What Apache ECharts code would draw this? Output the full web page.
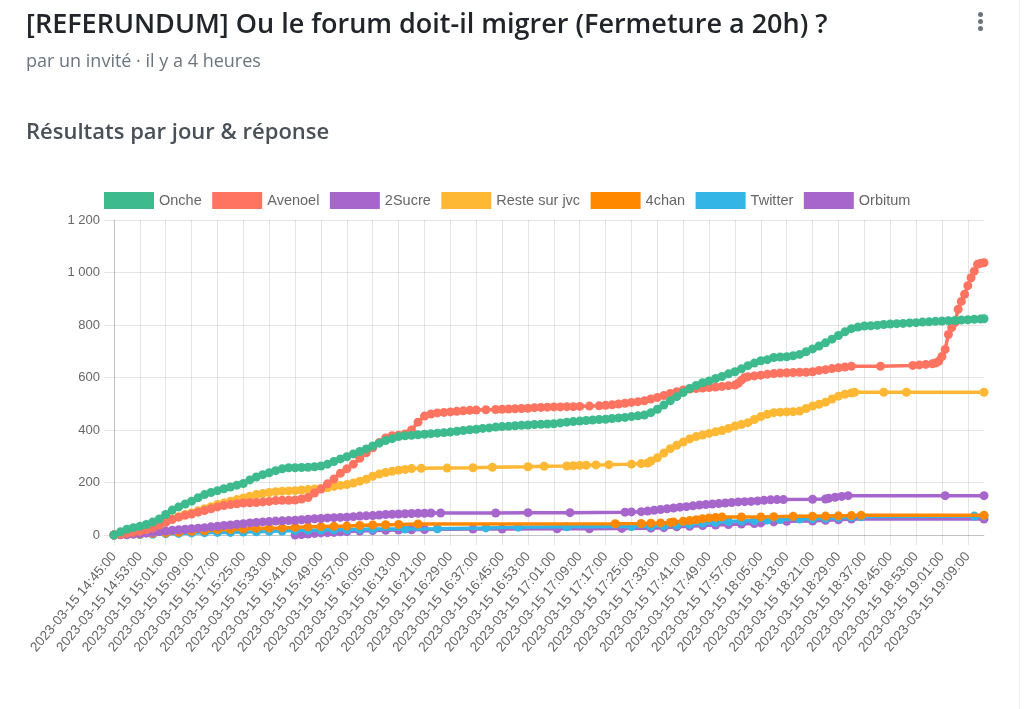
<!DOCTYPE html>
<html>
<head>
<meta charset="utf-8">
<script src="https://cdn.jsdelivr.net/npm/echarts@6/dist/echarts.min.js"></script>
<style>
	body { margin: 0; background: #fff; width: 1024px; height: 709px; overflow: hidden; font-family: "Open Sans", sans-serif; }
	#main { position: absolute; left: 0; top: 0; width: 1024px; height: 709px; }
	.txt { position: absolute; left: 26px; white-space: nowrap; line-height: 1; z-index: 2; }
	.title { top: 9px; font-size: 27px; font-weight: 600; color: #212529; }
	.sub { top: 51px; font-size: 18px; color: #6c757d; }
	.head { top: 119px; font-size: 22px; font-weight: 600; color: #495057; }
	.dot { position: absolute; left: 978px; width: 5px; height: 5px; border-radius: 50%; background: #6c757d; z-index: 2; }
	.edge { position: absolute; left: 1019px; top: 0; width: 1px; height: 709px; background: #f0f0f0; z-index: 2; }
</style>
</head>
<body>
<div id="main"></div>
<div class="txt title">[REFERUNDUM] Ou le forum doit-il migrer (Fermeture a 20h) ?</div>
<div class="txt sub">par un invité · il y a 4 heures</div>
<div class="txt head">Résultats par jour &amp; réponse</div>
<div class="dot" style="top:12px"></div>
<div class="dot" style="top:19px"></div>
<div class="dot" style="top:26px"></div>
<div class="edge"></div>
<script>
// noms des réponses et couleurs
let seriesNames = ['Onche', 'Avenoel', '2Sucre', 'Reste sur jvc', '4chan', 'Twitter', 'Orbitum'];
let seriesColors = ['#3dba8e', '#ff7461', '#a766cc', '#ffb833', '#ff8800', '#33b5e5', '#a766cc'];

// axe des x : une catégorie par minute à partir de 14:45
let startHour = 14;
let startMinute = 45;
let minuteCount = 270;

// valeurs : [minutes depuis 14:45, votes]
let onchePts = [[0,0],[2,12],[4,22],[6,28],[8,33],[10,40],[12,50],[14,61],[16,78],[18,95],[20,107],[22,118],[24,129],[26,142],[28,154],[30,162],[32,169],[34,176],[36,183],[38,190],[40,196],[42,210],[44,221],[46,230],[48,237],[50,245],[52,252],[54,256],[56,256],[58,257],[60,258],[62,260],[64,263],[66,270],[68,280],[70,290],[72,298],[74,309],[76,318],[78,328],[80,339],[82,350],[84,360],[86,367],[88,375],[90,378],[92,380],[94,382],[96,384],[98,386],[100,388],[102,390],[104,392],[106,395],[108,398],[110,401],[112,403],[114,406],[116,408],[118,411],[120,413],[122,414],[124,416],[126,418],[128,419],[130,421],[132,422],[134,423],[136,424],[138,427],[140,430],[142,432],[144,434],[146,436],[148,438],[150,440],[152,441],[154,444],[156,446],[158,448],[160,451],[162,454],[164,457],[166,466],[168,479],[170,495],[172,511],[174,527],[176,543],[178,558],[180,570],[182,580],[184,587],[186,596],[188,604],[190,614],[192,622],[194,633],[196,645],[198,655],[200,664],[202,668],[204,676],[206,678],[208,679],[210,683],[212,688],[214,698],[216,709],[218,720],[220,732],[222,746],[224,760],[226,774],[228,786],[230,792],[232,796],[234,797],[236,799],[238,802],[240,804],[242,805],[244,806],[246,808],[248,809],[250,811],[252,812],[254,814],[256,815],[258,816],[260,817],[262,819],[264,820],[266,822],[268,823],[269,824]];
let avenoelPts = [[0,0],[2,3],[4,6],[6,10],[8,14],[10,20],[12,27],[14,37],[16,48],[18,59],[20,68],[22,75],[24,80],[26,87],[28,93],[30,100],[32,107],[34,112],[36,116],[38,119],[40,122],[42,123],[44,124],[46,126],[48,128],[50,131],[52,132],[54,132],[56,133],[58,137],[60,143],[62,160],[64,175],[66,195],[68,213],[70,235],[72,252],[74,270],[76,292],[78,313],[80,332],[82,352],[84,370],[86,378],[88,380],[90,385],[92,400],[94,430],[96,453],[98,461],[100,465],[102,467],[104,469],[106,471],[108,473],[110,475],[112,476],[115,477],[118,478],[120,479],[122,480],[124,481],[126,482],[128,483],[130,485],[132,486],[134,487],[136,488],[138,488],[140,489],[142,489],[144,490],[147,491],[150,492],[152,494],[154,496],[156,499],[158,502],[160,505],[162,508],[164,511],[166,518],[168,524],[170,531],[172,539],[174,546],[176,552],[178,556],[180,558],[182,560],[184,562],[186,564],[188,566],[190,569],[192,571],[193,578],[194,590],[195,600],[196,603],[198,606],[200,609],[202,612],[204,615],[206,617],[208,618],[210,619],[212,620],[214,620],[216,622],[218,627],[220,630],[222,634],[224,637],[226,640],[228,643],[237,643],[247,646],[249,648],[251,650],[253,652],[254,655],[255,662],[256,680],[257,707],[258,764],[259,790],[260,809],[261,860],[262,890],[263,917],[264,950],[265,980],[266,1005],[267,1031],[268,1035],[269,1037]];
let sucrePts = [[0,0],[2,1],[4,2],[6,3],[8,5],[10,7],[12,10],[14,13],[16,15],[18,18],[20,20],[22,22],[24,24],[26,26],[28,28],[30,31],[32,33],[34,36],[36,38],[38,41],[40,43],[42,46],[44,48],[46,50],[48,51],[50,53],[52,54],[54,55],[56,56],[58,58],[60,60],[62,62],[64,63],[66,65],[68,66],[70,67],[72,68],[74,70],[76,72],[78,73],[80,74],[82,76],[84,78],[86,79],[88,80],[90,81],[92,82],[94,83],[96,83],[98,84],[101,84],[118,84],[128,85],[141,85],[158,87],[160,88],[163,89],[165,91],[167,94],[169,97],[171,100],[173,103],[175,106],[177,108],[179,111],[181,114],[183,116],[185,118],[187,120],[189,122],[191,124],[193,126],[195,127],[197,128],[199,130],[201,132],[203,134],[205,135],[207,135],[216,136],[220,137],[221,140],[223,144],[225,147],[227,150],[257,150],[269,150]];
let restePts = [[0,0],[2,2],[4,5],[6,8],[8,12],[10,18],[12,26],[14,38],[16,50],[18,62],[20,70],[22,78],[24,84],[26,92],[28,100],[30,108],[32,116],[34,122],[36,129],[38,135],[40,141],[42,148],[44,154],[46,158],[48,162],[50,165],[52,167],[54,168],[56,169],[58,171],[60,173],[62,175],[64,177],[66,180],[68,185],[70,189],[72,192],[74,198],[76,205],[78,212],[80,224],[82,232],[84,238],[86,243],[88,247],[90,250],[92,253],[95,254],[103,255],[111,256],[117,258],[128,260],[133,262],[140,263],[142,264],[144,265],[146,266],[149,267],[153,268],[160,270],[163,272],[165,274],[166,282],[168,294],[170,312],[172,329],[174,342],[176,354],[178,366],[180,375],[182,381],[184,387],[186,393],[188,398],[190,406],[192,415],[194,421],[196,428],[198,440],[200,451],[202,460],[204,466],[206,468],[208,469],[210,470],[212,472],[214,482],[216,491],[218,498],[220,506],[222,518],[224,529],[226,536],[228,541],[229,544],[238,544],[245,544],[269,544]];
let chanPts = [[0,0],[4,2],[8,4],[12,6],[16,8],[20,10],[24,14],[28,16],[32,20],[36,21],[40,23],[44,25],[48,26],[52,27],[56,29],[60,31],[64,32],[68,33],[72,34],[76,36],[80,38],[84,39],[88,40],[94,42],[155,43],[163,44],[166,45],[169,46],[172,48],[173,50],[176,52],[178,55],[180,58],[182,62],[184,65],[186,67],[188,69],[194,69],[200,69],[204,70],[210,71],[216,71],[220,72],[224,73],[228,74],[231,75],[269,75]];
let twitterPts = [[0,0],[4,1],[8,2],[12,3],[16,5],[20,6],[24,8],[28,9],[32,10],[36,10],[40,11],[44,12],[48,14],[52,15],[56,17],[60,18],[64,19],[68,20],[72,21],[76,22],[80,23],[90,23],[100,24],[115,27],[125,30],[140,31],[160,32],[166,33],[170,35],[174,38],[178,41],[182,45],[186,48],[190,51],[194,53],[198,55],[202,57],[206,59],[212,61],[216,62],[220,64],[224,66],[228,68],[231,70],[266,72],[269,73]];
let orbitumPts = [[56,0],[58,2],[60,4],[62,6],[64,8],[66,9],[68,10],[70,12],[72,13],[76,15],[80,17],[84,18],[88,19],[92,20],[96,21],[111,23],[120,23],[137,24],[147,24],[157,25],[166,26],[170,28],[174,31],[178,33],[182,36],[186,38],[190,40],[194,42],[198,44],[200,46],[204,50],[208,52],[216,53],[220,56],[224,58],[228,61],[269,61]];

let seriesPts = [onchePts, avenoelPts, sucrePts, restePts, chanPts, twitterPts, orbitumPts];

// libellés de l'axe des x
let timeLabels = [];
for(let i = 0; i < minuteCount; i++){
	let t = startHour * 60 + startMinute + i;
	let hh = String(Math.floor(t / 60)).padStart(2, '0');
	let mm = String(t % 60).padStart(2, '0');
	timeLabels.push(`2023-03-15 ${hh}:${mm}:00`);
}

// format français des milliers : 1 200
function frNumber(v){
	if(v >= 1000){
		return Math.floor(v / 1000) + ' ' + String(v % 1000).padStart(3, '0');
	}
	return String(v);
}

let gridColor = 'rgba(0,0,0,0.1)';
let series = [];
for(let i = 0; i < seriesNames.length; i++){
	series.push({
		name: seriesNames[i],
		type: 'line',
		data: seriesPts[i],
		z: 10 - i,
		symbol: 'circle',
		symbolSize: 9,
		showAllSymbol: true,
		lineStyle: { width: 3.5, color: seriesColors[i] },
		itemStyle: { color: seriesColors[i] }
	});
}

let myChart = echarts.init(document.getElementById('main'));
let option = {
	animation: false,
	color: seriesColors,
	legend: {
		left: 99,
		top: 187,
		itemWidth: 50,
		itemHeight: 17,
		itemGap: 10.5,
		icon: 'rect',
		textStyle: { color: '#666', fontSize: 14.5, fontFamily: 'Liberation Sans, Arial, sans-serif' },
		data: seriesNames
	},
	grid: { left: 114, right: 40, top: 220, bottom: 174, containLabel: false },
	xAxis: {
		type: 'category',
		boundaryGap: false,
		data: timeLabels,
		axisLine: { lineStyle: { color: 'rgba(0,0,0,0.15)' } },
		axisTick: { show: true, interval: 7, length: 10, lineStyle: { color: gridColor } },
		splitLine: { show: true, interval: 7, lineStyle: { color: gridColor } },
		axisLabel: { interval: 7, rotate: 50, color: '#666', fontSize: 13.5, margin: 19, fontFamily: 'Liberation Sans, Arial, sans-serif' }
	},
	yAxis: {
		type: 'value',
		min: 0,
		max: 1200,
		interval: 200,
		axisLine: { show: true, lineStyle: { color: 'rgba(0,0,0,0.15)' } },
		axisTick: { show: true, length: 10, lineStyle: { color: gridColor } },
		splitLine: { lineStyle: { color: gridColor } },
		axisLabel: { color: '#666', fontSize: 13, margin: 14, formatter: frNumber, fontFamily: 'Liberation Sans, Arial, sans-serif' }
	},
	series: series
};
myChart.setOption(option);
</script>
</body>
</html>
